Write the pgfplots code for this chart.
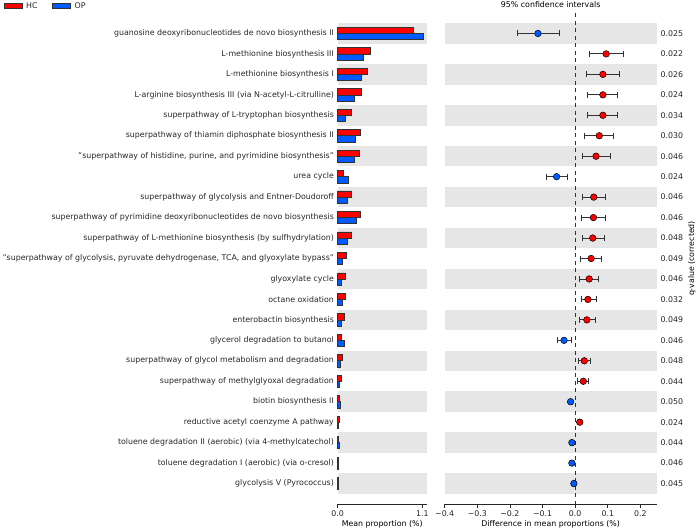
\documentclass[border=0pt]{standalone}
\usepackage{fontspec}
\setmainfont{DejaVu Sans}
\usepackage{pgfplots}
\pgfplotsset{compat=1.18}
\definecolor{hcred}{RGB}{255,0,0}
\definecolor{opblue}{RGB}{0,90,255}
\definecolor{band}{RGB}{230,230,230}
\definecolor{txt}{RGB}{38,38,38}
\definecolor{edge}{RGB}{50,50,50}
\begin{document}
\begin{tikzpicture}[font=\fontsize{7.85}{9}\selectfont]
\useasboundingbox (0pt,0pt) rectangle (696pt,530pt);
\pgfplotsset{
  common/.style={
    scale only axis, anchor=south west, height=491pt,
    ymin=-1, ymax=23, y dir=reverse,
    ytick={0,...,22},
    axis x line*=bottom,
    x axis line style={-, line width=0.9pt, color=txt},
    y axis line style={draw=none},
    ytick style={draw=none},
    xtick style={line width=0.8pt, color=txt},
    tick align=outside, major tick length=3.5pt,
    /pgf/number format/assume math mode=true,
    tick label style={color=txt},
    label style={color=txt},
    every axis x label/.style={at={(axis description cs:0.5,0)}, anchor=center, yshift=-20.5pt},
    every axis title/.style={at={(axis description cs:0.5,1)}, anchor=center, yshift=8pt},
    clip=false,
  }
}
% ---------------- left: mean proportions ----------------
\begin{axis}[common, at={(337.7pt,26pt)}, width=89pt,
  xmin=0, xmax=1.155, axis y line*=left,
  xtick={0,1.1}, xticklabels={0.0,1.1},
  yticklabel style={xshift=3.2pt},
  yticklabels={
guanosine deoxyribonucleotides de novo biosynthesis II,
L-methionine biosynthesis III,
L-methionine biosynthesis I,
L-arginine biosynthesis III (via N-acetyl-L-citrulline),
superpathway of L-tryptophan biosynthesis,
superpathway of thiamin diphosphate biosynthesis II,
{"superpathway of histidine, purine, and pyrimidine biosynthesis"},
urea cycle,
superpathway of glycolysis and Entner-Doudoroff,
superpathway of pyrimidine deoxyribonucleotides de novo biosynthesis,
superpathway of L-methionine biosynthesis (by sulfhydrylation),
{"superpathway of glycolysis, pyruvate dehydrogenase, TCA, and glyoxylate bypass"},
glyoxylate cycle,
octane oxidation,
enterobactin biosynthesis,
glycerol degradation to butanol,
superpathway of glycol metabolism and degradation,
superpathway of methylglyoxal degradation,
biotin biosynthesis II,
reductive acetyl coenzyme A pathway,
toluene degradation II (aerobic) (via 4-methylcatechol),
toluene degradation I (aerobic) (via o-cresol),
glycolysis V (Pyrococcus)},
  xlabel={Mean proportion (\%)},
  xbar, bar width=0.3,
  legend image code/.code={\draw[#1, draw=edge, line width=0.6pt] (0pt,-2.4pt) rectangle (18pt,2.4pt);},
  legend style={at={(axis description cs:-3.757,1.025)}, anchor=north west, draw=none, fill=none,
    inner sep=0pt, legend columns=2, nodes={inner sep=1.5pt, text=txt},
    /tikz/every odd column/.append style={column sep=2.5pt},
    /tikz/every even column/.append style={column sep=13pt}},
]
\pgfplotsinvokeforeach{0,2,...,22}{\fill[band] (axis cs:0,#1-0.5) rectangle (axis cs:1.155,#1+0.5);}
\addplot[fill=hcred, draw=edge, line width=0.6pt, bar shift=-0.15] coordinates {
(0.984,0) (0.429,1) (0.390,2) (0.308,3) (0.182,4) (0.295,5) (0.277,6) (0.074,7)
(0.178,8) (0.295,9) (0.173,10) (0.113,11) (0.095,12) (0.104,13) (0.082,14) (0.048,15)
(0.065,16) (0.048,17) (0.022,18) (0.017,19) (0.009,20) (0.008,21) (0.007,22)};
\addlegendentry{HC}
\addplot[fill=opblue, draw=edge, line width=0.6pt, bar shift=0.15] coordinates {
(1.105,0) (0.334,1) (0.308,2) (0.221,3) (0.100,4) (0.230,5) (0.212,6) (0.134,7)
(0.126,8) (0.238,9) (0.121,10) (0.065,11) (0.052,12) (0.061,13) (0.048,14) (0.087,15)
(0.035,16) (0.022,17) (0.035,18) (0.013,19) (0.017,20) (0.013,21) (0.007,22)};
\addlegendentry{OP}
\end{axis}
% ---------------- right: differences ----------------
\begin{axis}[common, at={(444.7pt,26pt)}, width=212pt,
  xmin=-0.4, xmax=0.25, axis y line*=right,
  xtick={-0.4,-0.3,-0.2,-0.1,0,0.1,0.2},
  xticklabels={−0.4,−0.3,−0.2,−0.1,0.0,0.1,0.2},
  yticklabel style={xshift=-3pt},
  yticklabels={0.025,0.022,0.026,0.024,0.034,0.030,0.046,0.024,0.046,0.046,0.048,0.049,0.046,0.032,0.049,0.046,0.048,0.044,0.050,0.024,0.044,0.046,0.045},
  xlabel={Difference in mean proportions (\%)},
  title={95\% confidence intervals},
  ylabel={q-value (corrected)},
  every axis y label/.style={at={(axis description cs:1.1665,0.5)}, rotate=90, anchor=center},
]
\pgfplotsinvokeforeach{0,2,...,22}{\fill[band] (axis cs:-0.4,#1-0.5) rectangle (axis cs:0.25,#1+0.5);}
\addplot[dash pattern=on 4pt off 3.5pt, color=edge, line width=0.9pt] coordinates {(0,-1) (0,23)};
\addplot[only marks, mark=*, mark size=3.3pt, mark options={fill=hcred, draw=black, line width=0.5pt},
  error bars/.cd, x dir=both, x explicit,
  error bar style={line width=0.9pt, color=edge},
  error mark options={rotate=90, mark size=3pt, line width=0.9pt, color=edge}]
coordinates {
(0.095,1) += (0.053,0) -= (0.051,0)
(0.085,2) += (0.052,0) -= (0.049,0)
(0.085,3) += (0.046,0) -= (0.046,0)
(0.085,4) += (0.046,0) -= (0.046,0)
(0.074,5) += (0.044,0) -= (0.044,0)
(0.064,6) += (0.043,0) -= (0.041,0)
(0.057,8) += (0.037,0) -= (0.036,0)
(0.056,9) += (0.038,0) -= (0.037,0)
(0.054,10) += (0.035,0) -= (0.033,0)
(0.049,11) += (0.033,0) -= (0.034,0)
(0.043,12) += (0.028,0) -= (0.029,0)
(0.039,13) += (0.025,0) -= (0.020,0)
(0.036,14) += (0.025,0) -= (0.022,0)
(0.028,16) += (0.019,0) -= (0.019,0)
(0.025,17) += (0.017,0) -= (0.019,0)
(0.014,19) += (0.004,0) -= (0.004,0)
};
\addplot[only marks, mark=*, mark size=3.3pt, mark options={fill=opblue, draw=black, line width=0.5pt},
  error bars/.cd, x dir=both, x explicit,
  error bar style={line width=0.9pt, color=edge},
  error mark options={rotate=90, mark size=3pt, line width=0.9pt, color=edge}]
coordinates {
(-0.114,0) += (0.067,0) -= (0.064,0)
(-0.057,7) += (0.033,0) -= (0.032,0)
(-0.034,15) += (0.024,0) -= (0.021,0)
(-0.014,18) += (0.005,0) -= (0.005,0)
(-0.010,20) += (0.004,0) -= (0.004,0)
(-0.010,21) += (0.004,0) -= (0.004,0)
(-0.004,22) += (0.003,0) -= (0.003,0)
};
\end{axis}
\end{tikzpicture}
\end{document}
